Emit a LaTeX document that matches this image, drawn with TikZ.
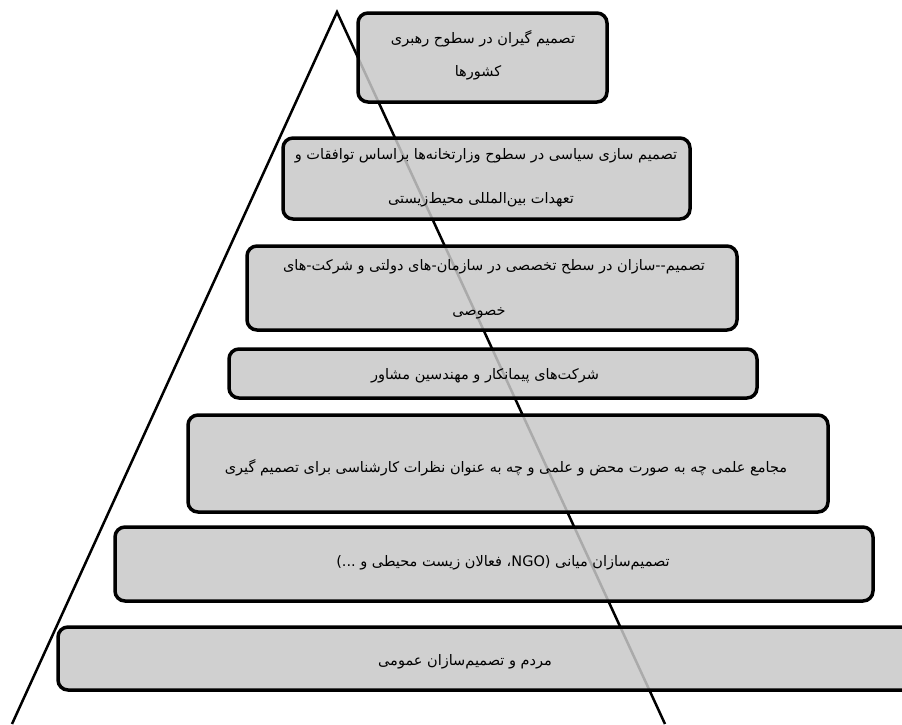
\documentclass[tikz,border=0pt]{standalone}
\usepackage{fontspec}
\newfontfamily\arabicfont[Script=Arabic]{DejaVu Sans}
\TeXXeTstate=1
\newcommand{\pers}[1]{\beginR #1\endR}
\begin{document}
\begin{tikzpicture}[x=1pt,y=-1pt,
  lvl/.style={draw=black, line width=3.5pt, rounded corners=10pt, fill={rgb,255:red,200;green,200;blue,200}, fill opacity=0.85, inner sep=0pt},
  side/.style={line width=2.5pt, black},
  lbl/.style={font=\arabicfont\fontsize{14.5}{18}\selectfont, inner sep=0pt, yshift=-2pt}]
\useasboundingbox (0,0) rectangle (902,724);
\coordinate (apex) at (337,12);
\coordinate (bl) at (12,724);
\coordinate (br) at (665,724);
\draw[side] (bl) -- (apex) -- (br);
% boxes
\node[lvl, minimum width=249pt, minimum height=89pt] (b1) at (482.5,57.5) {};
\node[lvl, minimum width=407pt, minimum height=81pt] (b2) at (486.5,178.5) {};
\node[lvl, minimum width=490pt, minimum height=84pt] (b3) at (492,288) {};
\node[lvl, minimum width=528pt, minimum height=49pt] (b4) at (493,373.5) {};
\node[lvl, minimum width=640pt, minimum height=97pt] (b5) at (508,463.5) {};
\node[lvl, minimum width=758pt, minimum height=74pt] (b6) at (494,564) {};
\node[lvl, minimum width=902pt, minimum height=63pt] (b7) at (509,658.5) {};
% texts
\node[lbl] (t1a) at (483,37) {\pers{تصمیم گیران در سطوح رهبری}};
\node[lbl] (t1b) at (478,71) {\pers{کشورها}};
\node[lbl] (t2a) at (486,154) {\pers{تصمیم سازی سیاسی در سطوح وزارتخانه‌ها براساس توافقات و}};
\node[lbl] (t2b) at (481,198) {\pers{تعهدات بین‌المللی محیط‌زیستی}};
\node[lbl] (t3a) at (494,265) {\pers{تصمیم--سازان در سطح تخصصی در سازمان-های دولتی و شرکت-های}};
\node[lbl] (t3b) at (479,311) {\pers{خصوصی}};
\node[lbl] (t4) at (485,374) {\pers{شرکت‌های پیمانکار و مهندسین مشاور}};
\node[lbl] (t5) at (506,466) {\pers{مجامع علمی چه به صورت محض و علمی و چه به عنوان نظرات کارشناسی برای تصمیم گیری}};
\node[lbl] (t6) at (503,561) {\pers{تصمیم‌سازان میانی (\beginL NGO\endL{}، فعالان زیست محیطی و ...)}};
\node[lbl] (t7) at (465,660) {\pers{مردم و تصمیم‌سازان عمومی}};
\end{tikzpicture}
\end{document}
